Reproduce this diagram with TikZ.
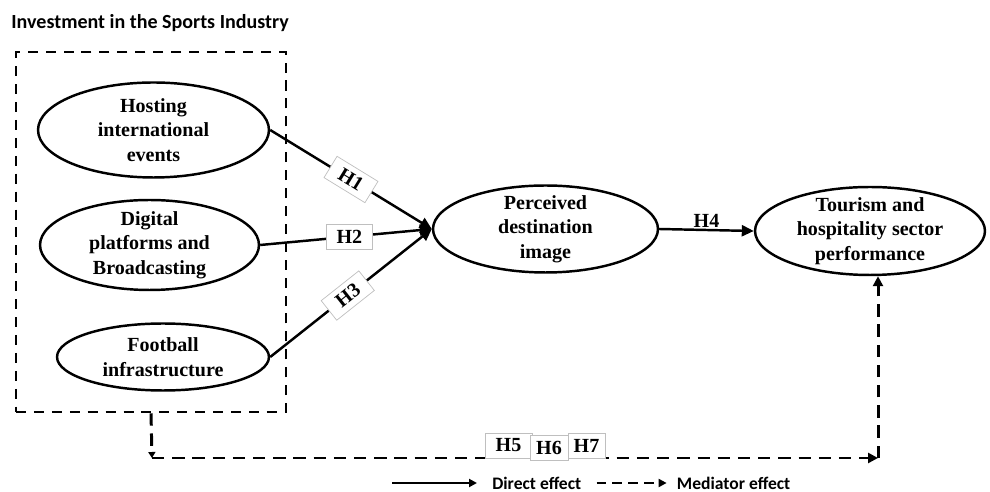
\documentclass[tikz,border=0pt]{standalone}
\usepackage{fontspec}
\setmainfont{Liberation Serif}
\newfontfamily\calibfont{Carlito}
\usetikzlibrary{arrows.meta,positioning,shapes.geometric}

\begin{document}
\begin{tikzpicture}[
  x=0.02cm, y=-0.02cm,
  node distance=3mm,
  factor/.style={draw, ellipse, line width=1.4pt, align=center, inner xsep=0pt, inner ysep=-3pt, font=\fontsize{11.4}{13.9}\selectfont\bfseries},
  hyp/.style={draw=black!25, line width=0.4pt, fill=white, inner sep=0pt, minimum height=0.5cm, font=\fontsize{11.4}{13.9}\selectfont\bfseries},
  arr/.style={-{Triangle[length=2.4mm, width=2.2mm]}, line width=1.4pt},
  darr/.style={-{Triangle[length=2mm, width=2mm]}, line width=1.7pt, dash pattern=on 7pt off 4.5pt},
  legarr/.style={-{Triangle[length=1.6mm, width=1.6mm]}, line width=1.1pt},
  legtxt/.style={font=\calibfont\fontsize{10}{12}\selectfont\bfseries, inner sep=0pt, anchor=west}
]
\useasboundingbox (0,0) rectangle (990,492);

\node[anchor=west, inner sep=0pt, font=\calibfont\fontsize{11.4}{13}\selectfont\bfseries] (title) at (11,23) {Investment in the Sports Industry};
\node[draw, line width=1.5pt, dash pattern=on 5.7pt off 4.5pt, minimum width=5.4cm, minimum height=7.2cm] (invest) at (151,232) {};

% antecedents
\node[factor, minimum width=4.62cm, minimum height=1.9cm] (host) at (153.5,130) {Hosting\\international\\events};
\node[factor, minimum width=4.38cm, minimum height=1.8cm] (digi) at (149.5,245) {Digital\\platforms and\\Broadcasting};
\node[factor, minimum width=4.24cm, minimum height=1.34cm] (foot) at (163,357) {Football\\infrastructure};
% mediator and outcome
\node[factor, minimum width=4.5cm, minimum height=1.74cm] (image) at (545.5,229) {Perceived\\destination\\image};
\node[factor, minimum width=4.6cm, minimum height=1.76cm] (tour) at (870,231) {Tourism and\\hospitality sector\\performance};

\draw[arr] (host.east) -- node[hyp, sloped, pos=0.5, minimum width=0.96cm] {H1} (image.west);
\draw[arr] (digi.east) -- node[hyp, pos=0.52, minimum width=0.92cm] {H2} (image.west);
\draw[arr] (foot.east) -- node[hyp, sloped, pos=0.48, minimum width=0.96cm] {H3} (image.west);
\draw[arr] (image.east) -- node[above, inner sep=1pt, font=\fontsize{11.4}{13.9}\selectfont\bfseries] (h4) {H4} (tour.west);

% mediation path
\coordinate (cornL) at (152,458);
\coordinate (cornR) at (878,458);
\draw[darr, -{Triangle[length=1.2mm, width=1.4mm]}] (invest.south) -- (cornL);
\draw[darr] (cornL) -- (cornR);
\draw[darr] (cornR) -- (tour.south -| cornR);
\node[hyp, minimum width=0.94cm] (h5) at (508.5,445.5) {H5};
\node[hyp, minimum width=0.76cm] (h6) at (549,448) {H6};
\node[hyp, minimum width=0.74cm] (h7) at (586.5,445.5) {H7};

% legend
\coordinate (dirA) at (392,483);
\coordinate (dirB) at (477,483);
\draw[legarr] (dirA) -- (dirB);
\node[legtxt, right=3mm of dirB] (dirtxt) {Direct effect};
\coordinate[right=3mm of dirtxt.east] (medA);
\coordinate[right=1.4cm of medA] (medB);
\draw[legarr, dash pattern=on 5.5pt off 3.5pt] (medA) -- (medB);
\node[legtxt, right=2mm of medB] (medtxt) {Mediator effect};
\end{tikzpicture}
\end{document}
